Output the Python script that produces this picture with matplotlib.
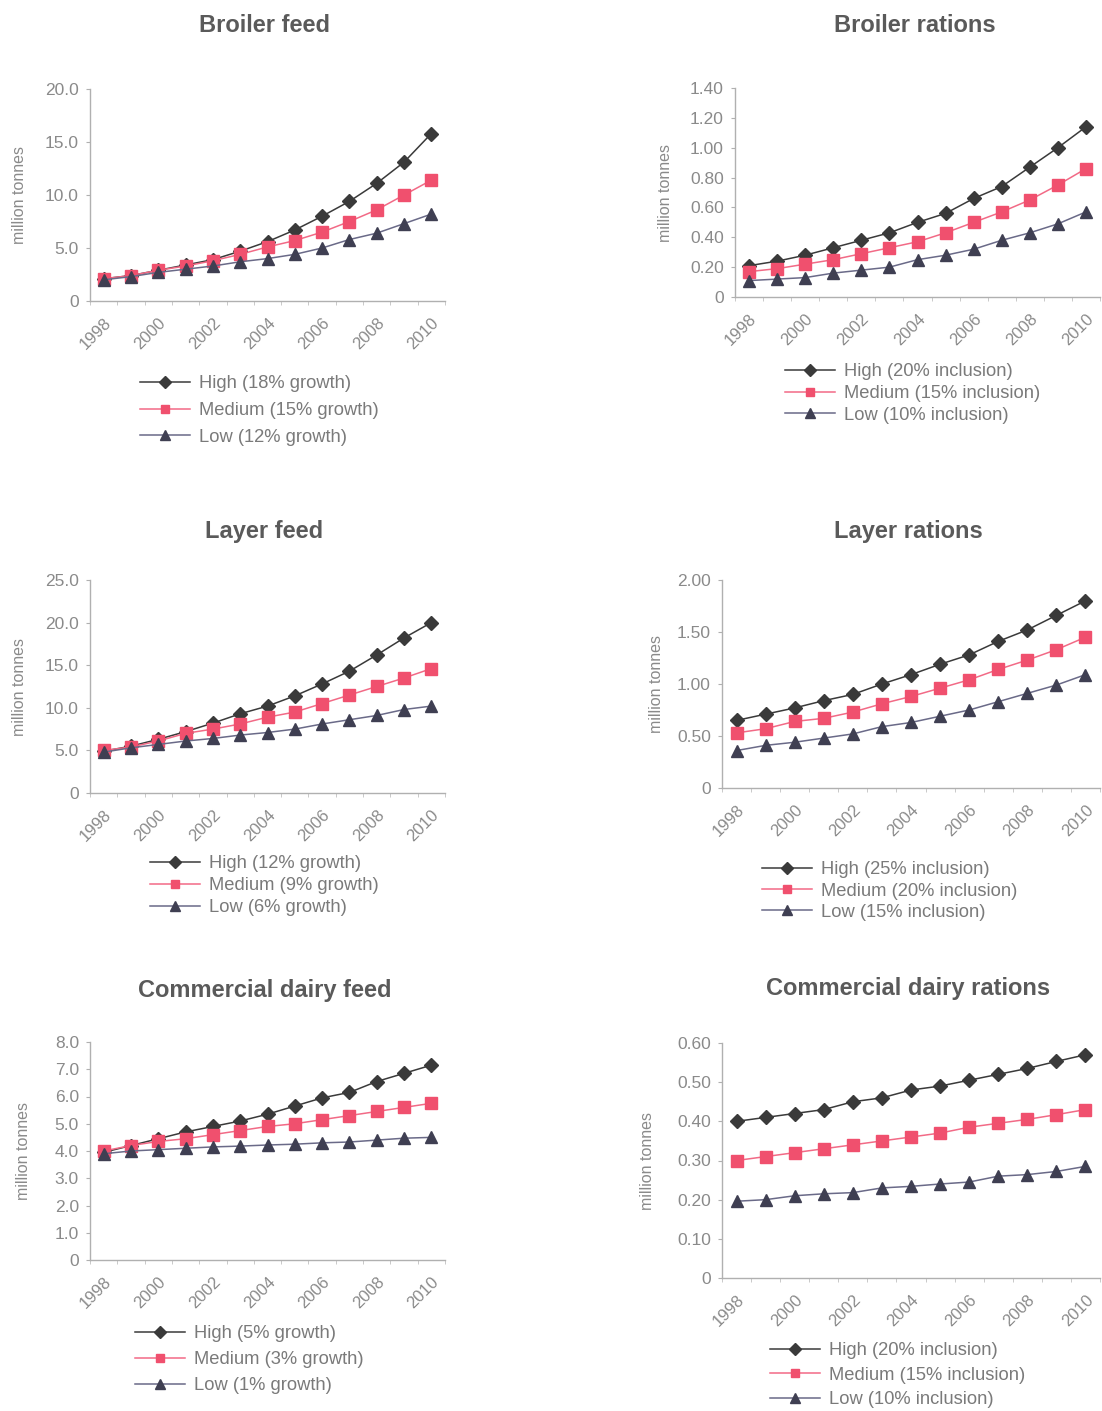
import numpy as np
import matplotlib.pyplot as plt
from matplotlib.transforms import ScaledTranslation

plt.rcParams['font.family'] = ['Liberation Sans', 'DejaVu Sans']

years = [str(y) for y in range(1998, 2011)]

# broiler feed (million tonnes)
broiler_feed_high = [2.1, 2.4, 2.9, 3.4, 3.9, 4.7, 5.6, 6.7, 8.0, 9.4, 11.1, 13.1, 15.8]
broiler_feed_med = [2.1, 2.4, 2.9, 3.3, 3.8, 4.4, 5.1, 5.7, 6.5, 7.5, 8.6, 10.0, 11.4]
broiler_feed_low = [2.0, 2.3, 2.7, 3.0, 3.3, 3.7, 4.0, 4.4, 5.0, 5.8, 6.4, 7.3, 8.2]

# broiler rations
broiler_rat_high = [0.21, 0.24, 0.28, 0.33, 0.38, 0.43, 0.50, 0.56, 0.66, 0.74, 0.87, 1.00, 1.14]
broiler_rat_med = [0.17, 0.19, 0.22, 0.25, 0.29, 0.33, 0.37, 0.43, 0.50, 0.57, 0.65, 0.75, 0.86]
broiler_rat_low = [0.11, 0.12, 0.13, 0.16, 0.18, 0.20, 0.25, 0.28, 0.32, 0.38, 0.43, 0.49, 0.57]

# layer feed
layer_feed_high = [4.9, 5.5, 6.3, 7.2, 8.2, 9.3, 10.2, 11.4, 12.8, 14.3, 16.2, 18.2, 20.0]
layer_feed_med = [5.0, 5.4, 6.1, 7.0, 7.5, 8.1, 8.9, 9.5, 10.5, 11.5, 12.5, 13.5, 14.6]
layer_feed_low = [4.8, 5.3, 5.7, 6.1, 6.4, 6.8, 7.1, 7.5, 8.1, 8.6, 9.1, 9.8, 10.2]

# layer rations
layer_rat_high = [0.65, 0.71, 0.77, 0.84, 0.90, 1.00, 1.09, 1.19, 1.28, 1.41, 1.52, 1.66, 1.80]
layer_rat_med = [0.53, 0.57, 0.64, 0.67, 0.73, 0.81, 0.88, 0.96, 1.04, 1.14, 1.23, 1.33, 1.45]
layer_rat_low = [0.36, 0.41, 0.44, 0.48, 0.52, 0.59, 0.63, 0.69, 0.75, 0.83, 0.91, 0.99, 1.09]

# commercial dairy feed
dairy_feed_high = [3.95, 4.2, 4.45, 4.7, 4.9, 5.1, 5.35, 5.65, 5.95, 6.15, 6.55, 6.85, 7.15]
dairy_feed_med = [4.0, 4.2, 4.35, 4.45, 4.6, 4.75, 4.9, 5.0, 5.15, 5.3, 5.45, 5.6, 5.75]
dairy_feed_low = [3.9, 4.0, 4.05, 4.1, 4.15, 4.18, 4.22, 4.25, 4.3, 4.33, 4.4, 4.47, 4.5]

# commercial dairy rations
dairy_rat_high = [0.40, 0.41, 0.42, 0.43, 0.45, 0.46, 0.48, 0.49, 0.505, 0.52, 0.535, 0.553, 0.57]
dairy_rat_med = [0.30, 0.31, 0.32, 0.33, 0.34, 0.35, 0.36, 0.37, 0.385, 0.395, 0.405, 0.417, 0.43]
dairy_rat_low = [0.196, 0.20, 0.21, 0.215, 0.218, 0.23, 0.234, 0.24, 0.245, 0.26, 0.264, 0.272, 0.285]

panels = [
    ("Broiler feed", [broiler_feed_high, broiler_feed_med, broiler_feed_low],
     ["High (18% growth)", "Medium (15% growth)", "Low (12% growth)"],
     [0, 5, 10, 15, 20], "%.1f"),
    ("Broiler rations", [broiler_rat_high, broiler_rat_med, broiler_rat_low],
     ["High (20% inclusion)", "Medium (15% inclusion)", "Low (10% inclusion)"],
     [0, 0.2, 0.4, 0.6, 0.8, 1.0, 1.2, 1.4], "%.2f"),
    ("Layer feed", [layer_feed_high, layer_feed_med, layer_feed_low],
     ["High (12% growth)", "Medium (9% growth)", "Low (6% growth)"],
     [0, 5, 10, 15, 20, 25], "%.1f"),
    ("Layer rations", [layer_rat_high, layer_rat_med, layer_rat_low],
     ["High (25% inclusion)", "Medium (20% inclusion)", "Low (15% inclusion)"],
     [0, 0.5, 1.0, 1.5, 2.0], "%.2f"),
    ("Commercial dairy feed", [dairy_feed_high, dairy_feed_med, dairy_feed_low],
     ["High (5% growth)", "Medium (3% growth)", "Low (1% growth)"],
     [0, 1, 2, 3, 4, 5, 6, 7, 8], "%.1f"),
    ("Commercial dairy rations", [dairy_rat_high, dairy_rat_med, dairy_rat_low],
     ["High (20% inclusion)", "Medium (15% inclusion)", "Low (10% inclusion)"],
     [0, 0.1, 0.2, 0.3, 0.4, 0.5, 0.6], "%.2f"),
]

# pixel boxes: left, right, top, bottom, title y, ylabel x, legend (x, first row y, row step)
W, H = 1102, 1411
boxes = [
    (90, 445, 89, 301, 25, 20, (140, 384, 27)),
    (735, 1100, 88, 297, 25, 665, (785, 372, 22)),
    (90, 445, 580, 793, 532, 20, (150, 864, 22)),
    (722, 1100, 580, 788, 532, 657, (762, 870, 21.5)),
    (90, 445, 1042, 1260, 990, 24, (135, 1334, 26)),
    (722, 1100, 1043, 1278, 988, 647, (770, 1351, 24.5)),
]

styles = [
    dict(color='#3a3a3a', marker='D', markersize=7.5, markerfacecolor='#3a3a3a', markeredgecolor='#3a3a3a'),
    dict(color='#f26a86', marker='s', markersize=8, markerfacecolor='#f0506e', markeredgecolor='#f0506e'),
    dict(color='#6a6a88', marker='^', markersize=9, markerfacecolor='#3f3f52', markeredgecolor='#3f3f52'),
]

LFS = 13.2
fig = plt.figure(figsize=(W / 100, H / 100), dpi=100)
x = np.arange(len(years))
shift = ScaledTranslation(-7 / 100, 0, fig.dpi_scale_trans)

for (title, series, labels, yticks, fmt), (l, r, t, b, ty, yx, lg) in zip(panels, boxes):
    ax = fig.add_axes([l / W, 1 - b / H, (r - l) / W, (b - t) / H])
    handles = []
    for s, lab, st in zip(series, labels, styles):
        h, = ax.plot(x, s, linewidth=1.1, label=lab, **st)
        handles.append(h)
    ax.set_xlim(-0.5, len(years) - 0.5)
    ax.set_ylim(0, yticks[-1])
    ax.set_yticks(yticks)
    ax.set_yticklabels(['0'] + [fmt % v for v in yticks[1:]])
    ax.set_xticks(x[::2])
    ax.set_xticklabels(years[::2], rotation=45, ha='right', rotation_mode='anchor')
    for lbl in ax.get_xticklabels():
        lbl.set_transform(lbl.get_transform() + shift)
    ax.set_xticks(np.arange(len(years) + 1) - 0.5, minor=True)
    for sp in ['top', 'right']:
        ax.spines[sp].set_visible(False)
    for sp in ['left', 'bottom']:
        ax.spines[sp].set_color('#b0b0b0')
        ax.spines[sp].set_linewidth(1.0)
    ax.tick_params(axis='y', colors='#b0b0b0', labelcolor='#8a8a8a', labelsize=12.5, length=3, pad=5)
    ax.tick_params(axis='x', which='major', length=0, labelcolor='#8a8a8a', labelsize=12, pad=10)
    ax.tick_params(axis='x', which='minor', length=3, colors='#c0c0c0')
    fig.text(yx / W, 1 - (t + b) / 2 / H, 'million tonnes', rotation=90, ha='center', va='center',
             color='#8a8a8a', fontsize=11.5)
    fig.text(((l + r) / 2 - 3) / W, 1 - ty / H, title, ha='center', va='center',
             fontsize=17, fontweight='bold', color='#5a5a5a')
    # legend rows below each chart
    lx, ly, step = lg
    fpx = LFS * 100 / 72
    fig.legend(handles, labels, loc='upper left',
               bbox_to_anchor=(lx / W, 1 - (ly - 0.47 * fpx) / H), frameon=False,
               fontsize=LFS, labelcolor='#7a7a7a', handlelength=2.7,
               labelspacing=(step - 0.94 * fpx) / fpx, borderpad=0, borderaxespad=0,
               handletextpad=0.5, markerscale=0.75)

fig.savefig('out.png', dpi=100, facecolor='white')
